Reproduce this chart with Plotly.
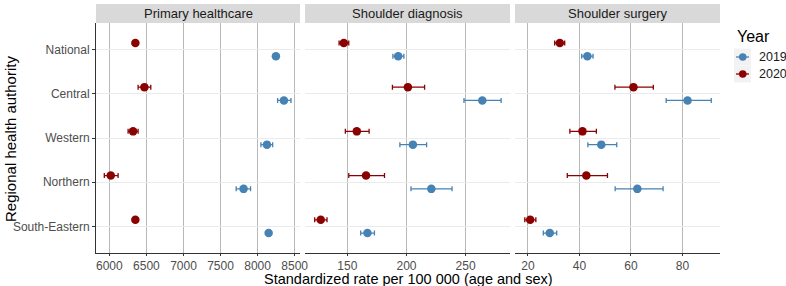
import plotly.graph_objects as go
from plotly.subplots import make_subplots

regions = ["National", "Central", "Western", "Northern", "South-Eastern"]
panels = ["Primary healthcare", "Shoulder diagnosis", "Shoulder surgery"]
years = ["2019", "2020"]

# values per panel: [National, Central, Western, Northern, South-Eastern]
ph_2019 = [8247, 8355, 8126, 7811, 8149]
ph_2019_lo = [8225, 8270, 8045, 7711, 8128]
ph_2019_hi = [8269, 8450, 8203, 7905, 8170]
ph_2020 = [6351, 6473, 6320, 6019, 6351]
ph_2020_lo = [6330, 6388, 6253, 5932, 6330]
ph_2020_hi = [6372, 6559, 6388, 6118, 6372]

sd_2019 = [193.0, 264.1, 205.4, 221.0, 167.0]
sd_2019_lo = [188.5, 248.6, 194.4, 203.8, 161.3]
sd_2019_hi = [197.8, 280.0, 217.0, 238.5, 172.9]
sd_2020 = [147.0, 201.2, 158.0, 165.8, 127.5]
sd_2020_lo = [143.0, 188.1, 148.3, 151.2, 122.4]
sd_2020_hi = [151.2, 215.3, 168.4, 181.4, 132.8]

ss_2019 = [43.1, 82.0, 48.5, 62.5, 28.5]
ss_2019_lo = [40.9, 73.7, 43.3, 53.9, 26.0]
ss_2019_hi = [45.3, 91.2, 54.5, 72.5, 31.2]
ss_2020 = [32.4, 61.0, 41.2, 42.7, 20.9]
ss_2020_lo = [30.4, 53.8, 36.3, 35.3, 18.8]
ss_2020_hi = [34.3, 68.7, 46.6, 50.9, 23.1]

x_ranges = [[5820, 8572], [114.2, 287.5], [15.0, 94.6]]
x_ticks = [[6000, 6500, 7000, 7500, 8000, 8500], [150, 200, 250], [20, 40, 60, 80]]

BLUE = "#4682B4"
RED = "#8B0000"
COLORS = [BLUE, RED]
FONT = "Liberation Sans"

data = [
    ((ph_2019, ph_2019_lo, ph_2019_hi), (ph_2020, ph_2020_lo, ph_2020_hi)),
    ((sd_2019, sd_2019_lo, sd_2019_hi), (sd_2020, sd_2020_lo, sd_2020_hi)),
    ((ss_2019, ss_2019_lo, ss_2019_hi), (ss_2020, ss_2020_lo, ss_2020_hi)),
]

n = len(regions)
ypos = [n - i for i in range(n)]
dodge = 0.15

fig = make_subplots(rows=1, cols=3, shared_yaxes=True, horizontal_spacing=0.008)

W, H = 786, 286
ml, mr, mt, mb = 96, 66, 23, 33
pw = W - ml - mr
ph = H - mt - mb
domains = [(0, 204 / pw), (209 / pw, 414 / pw), (419 / pw, 1.0)]


def px_x(px):
    return (px - ml) / pw


def px_y(py):
    return (H - mb - py) / ph


for c, series in enumerate(data):
    for k, (vals, lo, hi) in enumerate(series):
        off = -dodge if k == 0 else dodge
        col = COLORS[k]
        fig.add_trace(go.Scatter(
            x=vals, y=[y + off for y in ypos], mode="markers", name=years[k],
            marker=dict(color=col, size=8.5),
            error_x=dict(type="data", symmetric=False,
                         array=[h - v for h, v in zip(hi, vals)],
                         arrayminus=[v - l for v, l in zip(vals, lo)],
                         color=col, thickness=1.3, width=2.5),
            showlegend=False, hoverinfo="x"), row=1, col=c + 1)

for c in range(3):
    ax = "xaxis" if c == 0 else f"xaxis{c+1}"
    fig.layout[ax].update(domain=domains[c], range=x_ranges[c], tickvals=x_ticks[c],
                          showgrid=True, gridcolor="#b8b8b8", gridwidth=1,
                          zeroline=False, showline=True, linecolor="#333333", linewidth=1,
                          ticks="outside", ticklen=2, tickcolor="#333333", automargin=False,
                          tickfont=dict(size=12, color="#4d4d4d", family=FONT))
    yax = "yaxis" if c == 0 else f"yaxis{c+1}"
    fig.layout[yax].update(range=[0.4, n + 0.6], tickvals=ypos, ticktext=regions,
                           showgrid=True, gridcolor="#ebebeb", gridwidth=1, zeroline=False,
                           showline=(c == 0), linecolor="#333333", linewidth=1, automargin=False,
                           ticks="outside" if c == 0 else "", ticklen=3, tickcolor="#333333",
                           tickfont=dict(size=12, color="#4d4d4d", family=FONT))
    # strip
    fig.add_shape(type="rect", xref="paper", yref="paper",
                  x0=domains[c][0], x1=domains[c][1], y0=1.0, y1=px_y(4),
                  fillcolor="#d9d9d9", line=dict(width=0), layer="below")
    fig.add_annotation(xref="paper", yref="paper", x=(domains[c][0] + domains[c][1]) / 2,
                       y=px_y(13.5), text=panels[c], showarrow=False,
                       font=dict(size=13, color="#1a1a1a", family=FONT),
                       xanchor="center", yanchor="middle")

# axis titles
fig.add_annotation(xref="paper", yref="paper", x=px_x(10), y=px_y(139),
                   text="Regional health authority", textangle=-90, showarrow=False,
                   xanchor="center", yanchor="middle",
                   font=dict(size=15, color="#000000", family=FONT))
fig.add_annotation(xref="paper", yref="paper", x=px_x(408), y=px_y(279),
                   text="Standardized rate per 100 000 (age and sex)", showarrow=False,
                   yanchor="middle", xanchor="center",
                   font=dict(size=14.5, color="#000000", family=FONT))

# manual legend
fig.add_annotation(xref="paper", yref="paper", x=px_x(735), y=px_y(36),
                   text="Year", showarrow=False, xanchor="left", yanchor="middle",
                   font=dict(size=16, color="#000000", family=FONT))
for k, yr in enumerate(years):
    cy = 57 + 17 * k
    fig.add_shape(type="rect", xref="paper", yref="paper",
                  x0=px_x(734), x1=px_x(751), y0=px_y(cy + 8.5), y1=px_y(cy - 8.5),
                  fillcolor="#f2f2f2", line=dict(width=0))
    fig.add_shape(type="line", xref="paper", yref="paper",
                  x0=px_x(736), x1=px_x(749), y0=px_y(cy), y1=px_y(cy),
                  line=dict(color=COLORS[k], width=1.3))
    fig.add_shape(type="circle", xref="paper", yref="paper",
                  x0=px_x(739), x1=px_x(746.5), y0=px_y(cy + 3.75), y1=px_y(cy - 3.75),
                  fillcolor=COLORS[k], line=dict(width=0))
    fig.add_annotation(xref="paper", yref="paper", x=px_x(757), y=px_y(cy),
                       text=yr, showarrow=False, xanchor="left", yanchor="middle",
                       font=dict(size=12.5, color="#1a1a1a", family=FONT))

fig.update_layout(
    width=W, height=H, margin=dict(l=ml, r=mr, t=mt, b=mb, autoexpand=False),
    plot_bgcolor="white", paper_bgcolor="white",
    font=dict(family=FONT), showlegend=False,
)

fig.write_html("out.html", config={"displayModeBar": False},
               post_script="document.body.style.margin='0';document.body.style.padding='0';")
